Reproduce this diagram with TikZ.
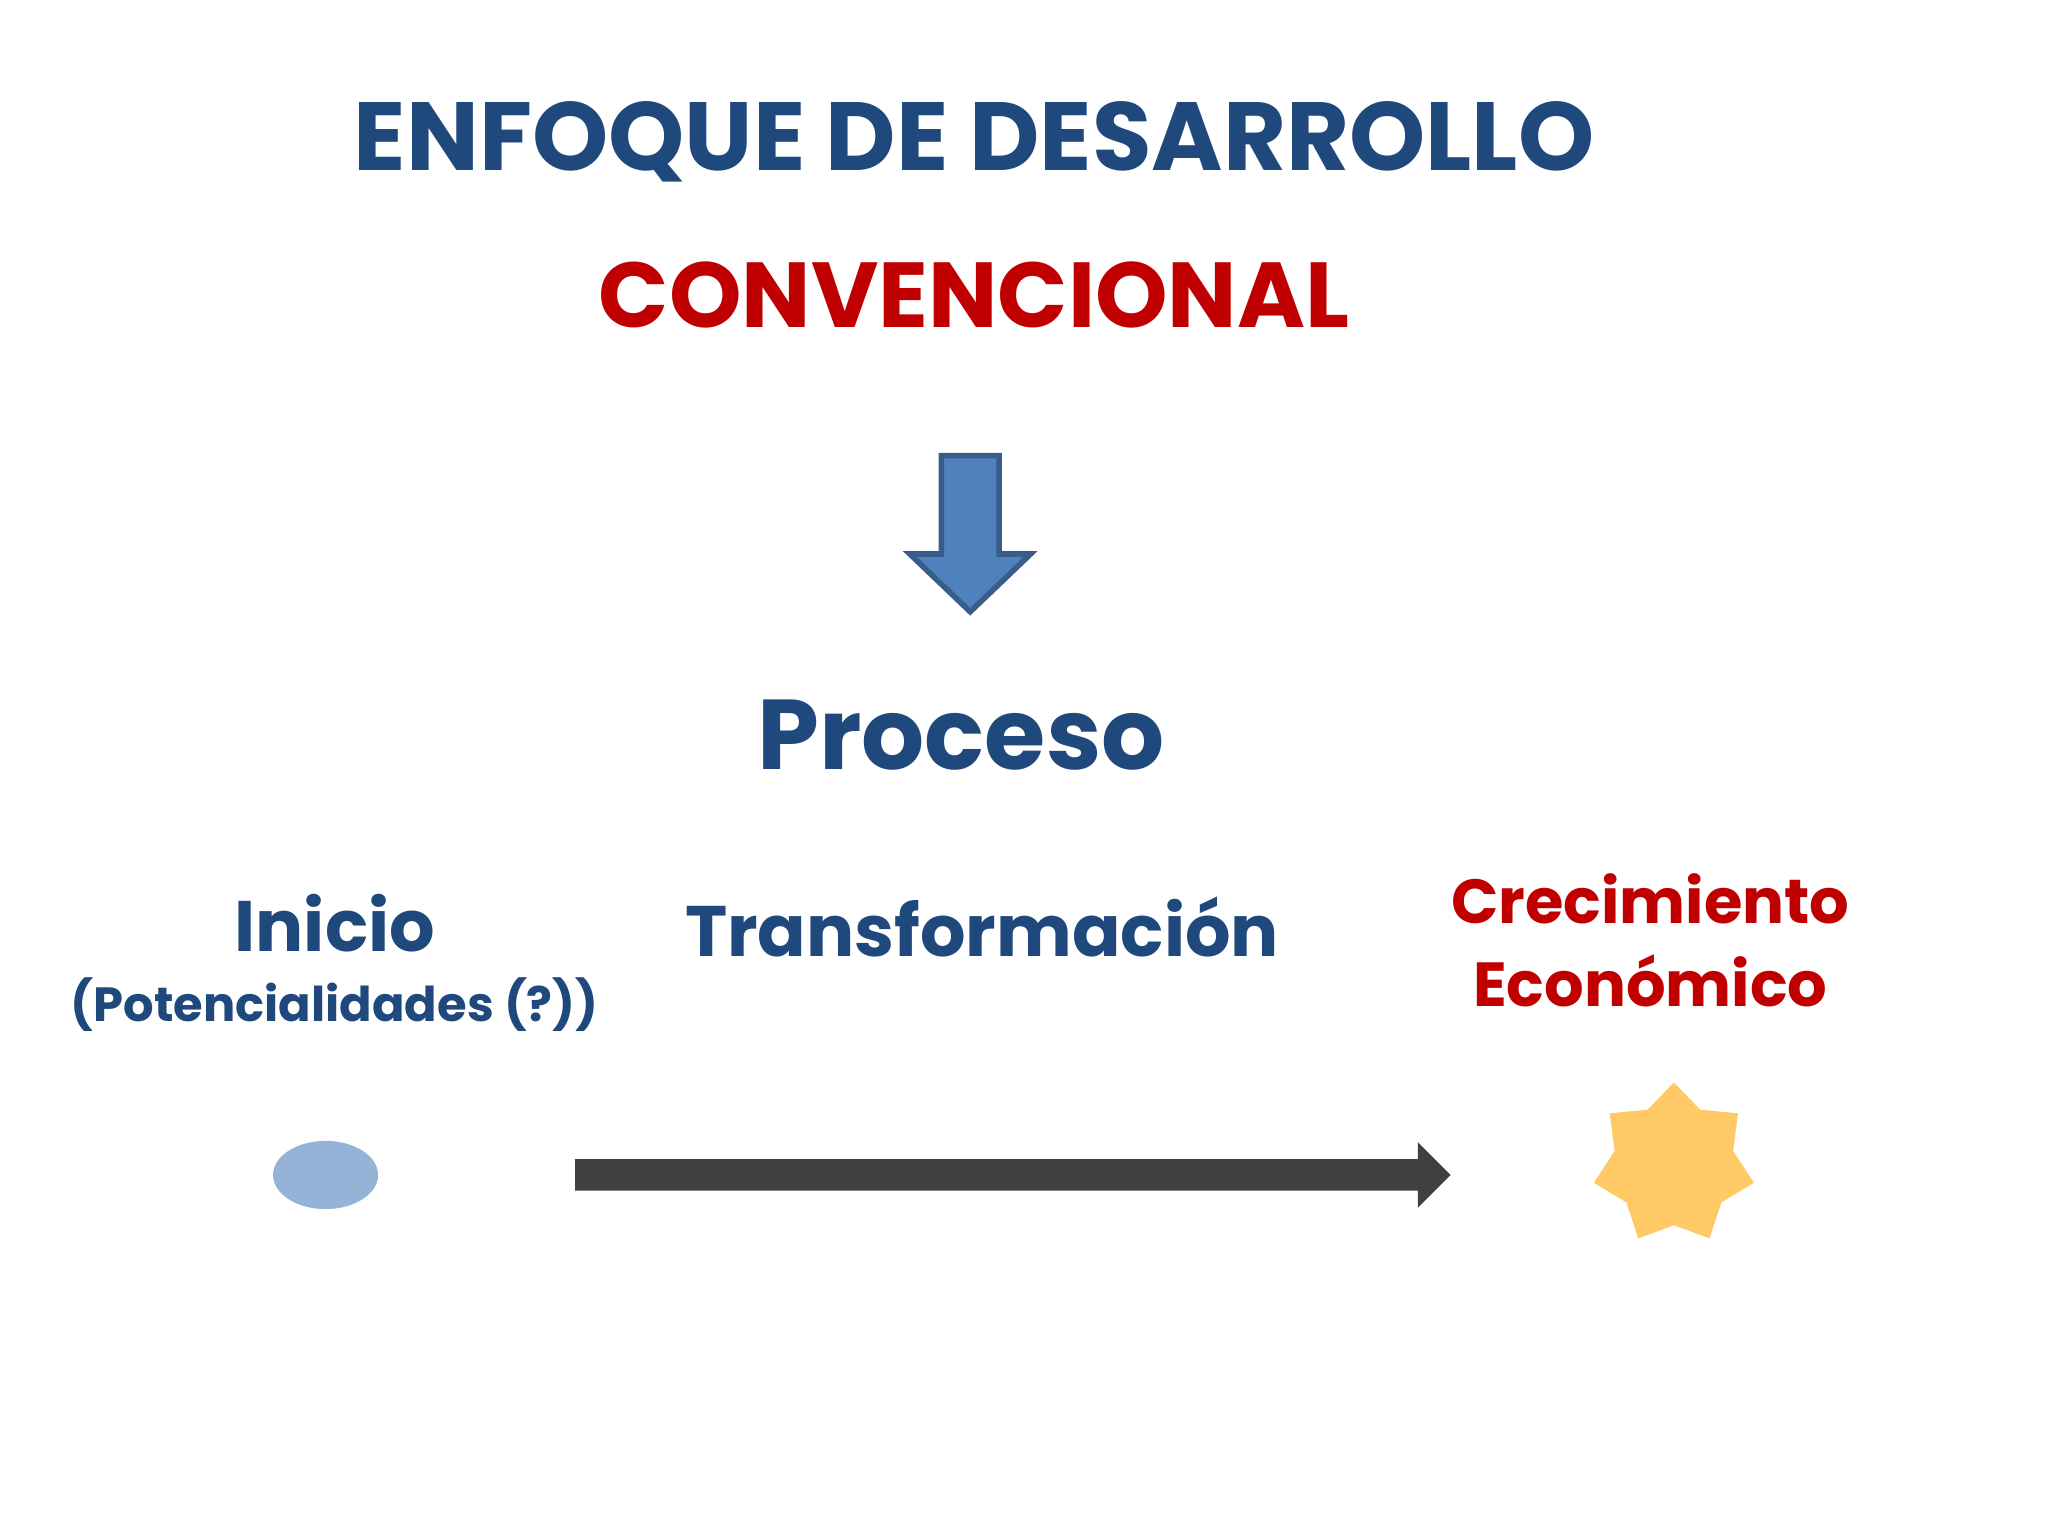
\documentclass[tikz,border=0pt]{standalone}
\usepackage{fontspec}
\setmainfont{Poppins}
\usetikzlibrary{shapes.geometric}
\definecolor{dblue}{HTML}{1F497D}
\definecolor{dred}{HTML}{C00000}
\definecolor{ablue}{HTML}{4F81BD}
\definecolor{aborder}{HTML}{385D8A}
\definecolor{lblue}{HTML}{95B3D7}
\definecolor{dgray}{HTML}{404040}
\definecolor{gold}{HTML}{FFCA66}
\tikzset{
 txt/.style={inner sep=0pt,font=\bfseries},
}
\begin{document}
\begin{tikzpicture}
\useasboundingbox (0,0) rectangle (15.6,-11.7);
\node[txt,text=dblue,font=\bfseries\fontsize{21}{24}\selectfont] (t1) at (7.42,-1.08) {ENFOQUE DE DESARROLLO};
\node[txt,text=dred,font=\bfseries\fontsize{20}{24}\selectfont] (t2) at (7.42,-2.25) {CONVENCIONAL};
\draw[aborder,fill=ablue,line width=1.2pt,line join=miter]
 (7.17,-3.47) -- (7.61,-3.47) -- (7.61,-4.22) -- (7.85,-4.22) -- (7.39,-4.66) -- (6.93,-4.22) -- (7.17,-4.22) -- cycle;
\node[txt,text=dblue,font=\bfseries\fontsize{21.5}{26}\selectfont] (p) at (7.32,-5.6) {Proceso};
\node[txt,text=dblue,font=\bfseries\fontsize{15.5}{18}\selectfont] (ini) at (2.55,-7.03) {Inicio};
\node[txt,text=dblue,font=\bfseries\fontsize{10.4}{14}\selectfont] (pot) at (2.55,-7.65) {(Potencialidades (?))};
\node[txt,text=dblue,font=\bfseries\fontsize{15.5}{18}\selectfont] (tr) at (7.48,-7.06) {Transformación};
\node[txt,text=dred,font=\bfseries\fontsize{13.5}{16}\selectfont] (c1) at (12.57,-6.85) {Crecimiento};
\node[txt,text=dred,font=\bfseries\fontsize{13.5}{16}\selectfont] (c2) at (12.57,-7.47) {Económico};
\node[ellipse,fill=lblue,minimum width=0.8cm,minimum height=0.52cm,inner sep=0pt] (e) at (2.48,-8.95) {};
\fill[dgray] (4.38,-8.83) -- (10.8,-8.83) -- (10.8,-8.7) -- (11.05,-8.95) -- (10.8,-9.2) -- (10.8,-9.07) -- (4.38,-9.07) -- cycle;
\node[star,star points=7,star point ratio=1.35,fill=gold,minimum size=1.25cm,inner sep=0pt] (s) at (12.75,-8.87) {};
\end{tikzpicture}
\end{document}
